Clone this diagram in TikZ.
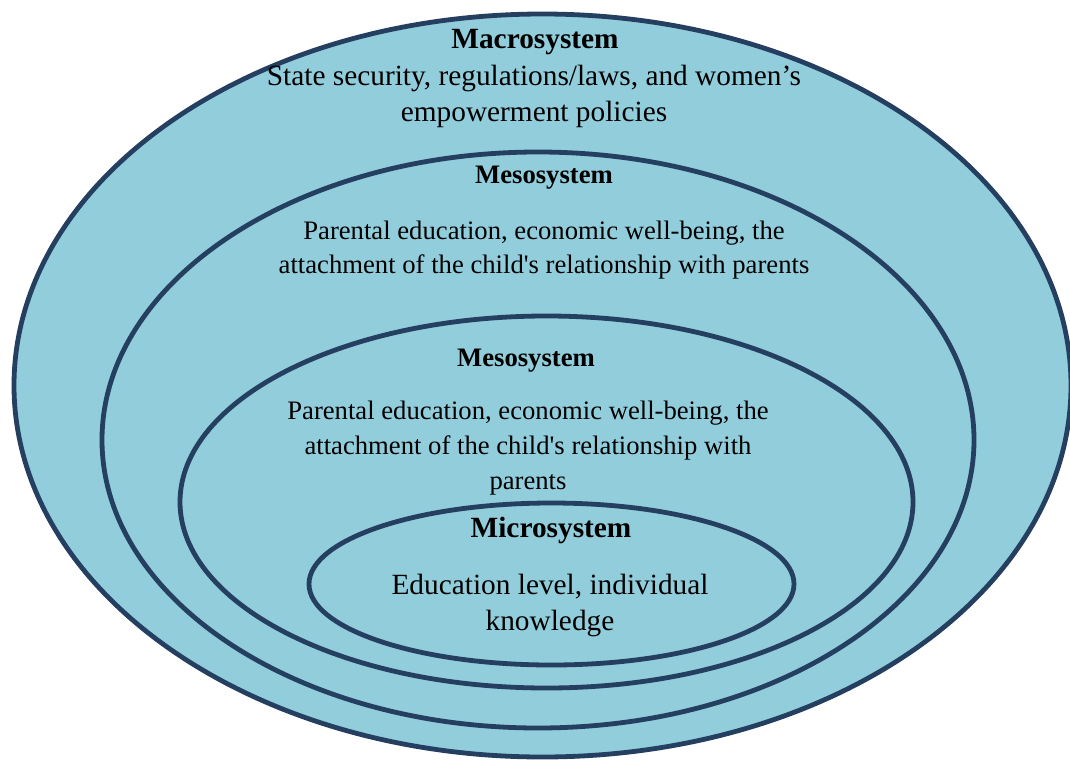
\documentclass[tikz,border=0pt]{standalone}
\usepackage{fontspec}
\setmainfont{Liberation Serif}
\definecolor{layerfill}{RGB}{146,205,220}
\definecolor{layerline}{RGB}{36,63,96}

\begin{document}
\begin{tikzpicture}[x = 0.75pt, y = -0.75pt, every node/.style = {align = center, inner sep = 0pt}, layer/.style = {fill = layerfill, draw = layerline, line width = 3.6pt}, bigtitle/.style = {font = \fontsize{22}{27}\selectfont\bfseries}, bigtext/.style = {font = \fontsize{22}{27}\selectfont}, midtitle/.style = {font = \fontsize{20}{26}\selectfont\bfseries}, midtext/.style = {font = \fontsize{20}{26}\selectfont}]

	\useasboundingbox (0, 0) rectangle (1070, 760);

	% outer ring
	\path[layer] (542.5, 385.5) ellipse [x radius = 528.5, y radius = 371.5];
	\node (macro)     at (535, 42)  [bigtitle] {Macrosystem};
	\node (macrotext) at (534, 96)  [bigtext]  {State security, regulations/laws, and women’s\\empowerment policies};

	% first mesosystem ring
	\path[layer] (538, 440) ellipse [x radius = 436, y radius = 288];
	\node (mesoA)     at (544, 178) [midtitle] {Mesosystem};
	\node (mesoAtext) at (544, 250) [midtext]  {Parental education, economic well-being, the\\attachment of the child\textquotesingle s relationship with parents};

	% second mesosystem ring
	\path[layer] (546.5, 502) ellipse [x radius = 366.5, y radius = 186];
	\node (mesoB)     at (526, 361) [midtitle] {Mesosystem};
	\node (mesoBtext) at (528, 448) [midtext]  {Parental education, economic well-being, the\\attachment of the child\textquotesingle s relationship with\\parents};

	% inner ring
	\path[layer] (551.5, 584) ellipse [x radius = 242.5, y radius = 81];
	\node (micro)     at (551, 530) [bigtitle] {Microsystem};
	\node (microtext) at (550, 605) [bigtext]  {Education level, individual\\knowledge};

\end{tikzpicture}
\end{document}
